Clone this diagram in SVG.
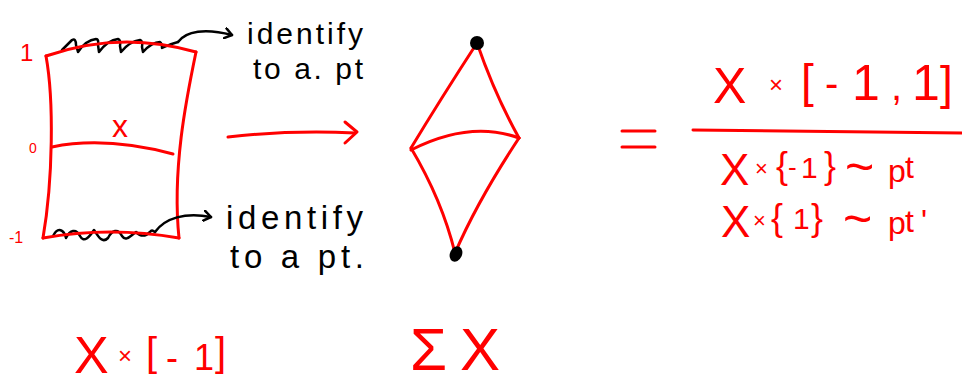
<svg xmlns="http://www.w3.org/2000/svg" width="962" height="383" viewBox="0 0 962 383">
<style>
.r{fill:none;stroke:#ff0000;stroke-width:3;stroke-linecap:round;stroke-linejoin:round}
.k{fill:none;stroke:#000;stroke-width:2.5;stroke-linecap:round;stroke-linejoin:round}
.rt{fill:#ff0000;font-family:"Liberation Sans",Arial,sans-serif}
.kt{fill:#000;font-family:"Liberation Sans",Arial,sans-serif}
</style>
<defs>
<marker id="kh" viewBox="0 0 10 12" refX="8" refY="6" markerWidth="10" markerHeight="12" markerUnits="userSpaceOnUse" orient="auto">
<polyline points="1,1 8,6 1,11" fill="none" stroke="#000" stroke-width="2.5" stroke-linecap="round" stroke-linejoin="round"/>
</marker>
</defs>
<rect width="962" height="383" fill="#fff"/>

<g id="top-squiggle">
<path class="k" d="M62,50 L72,40 Q76,38 76,45 L78,52 Q86,40 96,39 Q99,39 98,45 L99,52 Q108,40 118,39 Q121,40 120,46 L121,52 Q130,41 140,40 Q143,41 142,47 L143,52 Q152,42 160,42 Q162,43 162,48 Q170,44 178,42"/>
</g>
<g id="bottom-squiggle">
<path class="k" d="M53,236 C58,226 64,230 66,238 C70,230 76,228 80,236 C84,244 90,236 94,230 C98,236 102,244 108,238 C112,230 118,228 122,236 C126,242 130,236 136,232 C140,236 144,238 150,232 C152,229 153,231 155,232"/>
</g>

<g id="cylinder">
<path class="r" d="M46,56 Q120,30 196,52"/>
<path class="r" d="M46,56 C54,100 53,180 43,238"/>
<path class="r" d="M196,52 C186,100 172,170 179,238"/>
<path class="r" d="M43,238 Q110,226 179,238"/>
<path class="r" d="M52,147 Q105,136 173,154"/>
<text class="rt" x="112" y="137" font-size="32">x</text>
<text class="rt" x="20" y="61" font-size="24">1</text>
<text class="rt" x="29" y="153" font-size="14">0</text>
<text class="rt" x="9" y="243" font-size="16">-1</text>
</g>

<g id="label-top">
<text class="kt" x="247" y="44" font-size="30" textLength="116" lengthAdjust="spacing">identify</text>
<text class="kt" x="253" y="79" font-size="30" textLength="110" lengthAdjust="spacing">to a. pt</text>
</g>
<g id="label-bottom">
<text class="kt" x="226" y="229" font-size="33" textLength="137" lengthAdjust="spacing">identify</text>
<text class="kt" x="230" y="268" font-size="33" textLength="134" lengthAdjust="spacing">to a pt.</text>
</g>

<g id="suspension">
<path class="r" d="M477,43 Q440,100 411,148"/>
<path class="r" d="M477,43 Q495,95 519,138"/>
<path class="r" d="M411,148 Q442,200 455,253"/>
<path class="r" d="M519,138 Q478,200 455,253"/>
<path class="r" d="M411,150 Q470,120 519,138"/>
<circle cx="477" cy="43" r="7" fill="#000"/>
<ellipse cx="456" cy="254" rx="6" ry="8" transform="rotate(25 456 254)" fill="#000"/>
</g>

<g id="formula">
<path class="r" d="M622,131 L655,131 M622,147 L655,147"/>
<path class="r" d="M693,130 Q830,131 962,133"/>
<text class="rt" font-size="50">
<tspan x="713" y="103">X</tspan><tspan x="769" y="93" font-size="24">×</tspan><tspan x="801" y="97" font-size="46">[</tspan><tspan x="825" y="97" font-size="40">-</tspan><tspan x="852" y="100" font-size="50">1</tspan><tspan x="891" y="100" font-size="40">,</tspan><tspan x="912" y="100" font-size="50">1</tspan><tspan x="940" y="99" font-size="46">]</tspan>
</text>
<text class="rt" font-size="44">
<tspan x="720" y="185">X</tspan><tspan x="755" y="176" font-size="22">×</tspan><tspan x="776" y="178" font-size="36">{</tspan><tspan x="788" y="176" font-size="26">-</tspan><tspan x="801" y="178" font-size="30">1</tspan><tspan x="824" y="178" font-size="36">}</tspan><tspan x="845" y="184" font-size="50">~</tspan><tspan x="888" y="182" font-size="32">p</tspan><tspan x="905" y="178" font-size="32">t</tspan>
</text>
<text class="rt" font-size="44">
<tspan x="721" y="237">X</tspan><tspan x="753" y="228" font-size="22">×</tspan><tspan x="771" y="230" font-size="36">{</tspan><tspan x="793" y="229" font-size="30">1</tspan><tspan x="811" y="230" font-size="36">}</tspan><tspan x="843" y="236" font-size="50">~</tspan><tspan x="888" y="234" font-size="32">p</tspan><tspan x="905" y="232" font-size="32">t</tspan><tspan x="921" y="232" font-size="32">'</tspan>
</text>
</g>

<g id="caption-left">
<text class="rt" font-size="52">
<tspan x="74" y="373">X</tspan><tspan x="118" y="364" font-size="24">×</tspan><tspan x="146" y="366" font-size="40">[</tspan><tspan x="166" y="370" font-size="36">-</tspan><tspan x="194" y="370" font-size="36">1</tspan><tspan x="215" y="366" font-size="40">]</tspan>
</text>
</g>
<g id="caption-right">
<text class="rt" font-size="60"><tspan x="410" y="370">Σ</tspan><tspan x="460" y="370" font-size="60">X</tspan></text>
</g>

<g id="connectors">
<path class="k" d="M178,42 C186,31 205,28 232,35" marker-end="url(#kh)"/>
<path class="k" d="M155,232 C165,218 185,212 211,217" marker-end="url(#kh)"/>
<path class="r" d="M228,137 Q290,130 355,133"/>
<path class="r" d="M345,122 L357,132 L345,143"/>
</g>
</svg>
